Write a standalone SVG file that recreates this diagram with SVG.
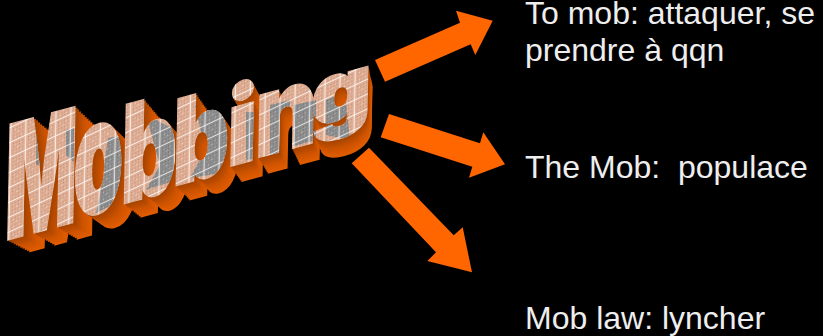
<svg xmlns="http://www.w3.org/2000/svg" width="823" height="336" viewBox="0 0 823 336">
<style>
.lbl{font:32px "Liberation Sans",Arial,sans-serif;fill:#eee;white-space:pre}
.arrow{fill:#ff6600}
#word{font-family:Inter,"DejaVu Sans",sans-serif;font-weight:900;stroke-width:2.5}
</style>
<defs>
<pattern id="peach" width="15" height="15" patternUnits="userSpaceOnUse" patternTransform="matrix(1 -0.2 0 1 0 0)">
<rect width="15" height="15" fill="#dfae94"/>
<path d="M1 1h1v1h-1zM4 1h1v1h-1zM7 1h1v1h-1zM10 1h1v1h-1zM1 4h1v1h-1zM4 4h1v1h-1zM7 4h1v1h-1zM10 4h1v1h-1zM1 8h1v1h-1zM4 8h1v1h-1zM7 8h1v1h-1zM10 8h1v1h-1zM1 11h1v1h-1zM4 11h1v1h-1zM7 11h1v1h-1zM10 11h1v1h-1z" fill="#b58570"/>
<path d="M2.500 2.500h1v1h-1zM5.500 5.500h1v1h-1zM8.500 2.500h1v1h-1zM2.500 9.500h1v1h-1zM8.500 9.500h1v1h-1z" fill="#f6dfd0"/>
<rect x="13" width="1" height="15" fill="#fff" opacity=".85"/><rect y="13" width="15" height="1" fill="#fff" opacity=".85"/>
</pattern>
<pattern id="gray" width="15" height="15" patternUnits="userSpaceOnUse" patternTransform="matrix(1 -0.2 0 1 0 0)">
<rect width="15" height="15" fill="#8f8f8f"/>
<path d="M1 1h1v1h-1zM4 1h1v1h-1zM7 1h1v1h-1zM10 1h1v1h-1zM1 4h1v1h-1zM4 4h1v1h-1zM7 4h1v1h-1zM10 4h1v1h-1zM1 8h1v1h-1zM4 8h1v1h-1zM7 8h1v1h-1zM10 8h1v1h-1zM1 11h1v1h-1zM4 11h1v1h-1zM7 11h1v1h-1zM10 11h1v1h-1z" fill="#666"/>
<path d="M2.500 2.500h1v1h-1zM5.500 5.500h1v1h-1zM8.500 2.500h1v1h-1zM2.500 9.500h1v1h-1zM8.500 9.500h1v1h-1z" fill="#c8c8c8"/>
<rect x="13" width="1" height="15" fill="#fff" opacity=".8"/><rect y="13" width="15" height="1" fill="#fff" opacity=".8"/>
</pattern>
<clipPath id="shade">
<polygon points="36,134 44,130 44,165 36,165"/><polygon points="66,130 74,128 74,162 66,155"/>
<polygon points="108,138 124,135 122,200 96,213 100,195"/>
<polygon points="146,115 176,130 176,180 146,190 160,165"/>
<polygon points="195,105 228,110 228,172 190,178 205,150"/>
<polygon points="246,112 258,112 258,158 246,160"/><polygon points="270,105 290,100 290,150 270,155"/>
<polygon points="294,105 316,100 316,140 294,146"/><polygon points="326,100 345,92 350,140 326,135"/>
</clipPath>
<text id="word" transform="matrix(1 -0.27 -0.02 1 0 0)"><tspan x="9" y="243" font-size="158" textLength="72" lengthAdjust="spacingAndGlyphs">M</tspan><tspan x="77" y="240" font-size="160" textLength="50" lengthAdjust="spacingAndGlyphs">o</tspan><tspan x="125" y="238" font-size="135" textLength="56" lengthAdjust="spacingAndGlyphs">b</tspan><tspan x="177" y="234" font-size="118" textLength="56" lengthAdjust="spacingAndGlyphs">b</tspan><tspan x="231" y="229" font-size="105" textLength="30" lengthAdjust="spacingAndGlyphs">i</tspan><tspan x="259" y="228" font-size="112" textLength="62" lengthAdjust="spacingAndGlyphs">n</tspan><tspan x="315" y="213" font-size="84" textLength="60" lengthAdjust="spacingAndGlyphs">g</tspan></text>
</defs>
<rect width="823" height="336" fill="#000"/>
<g id="mobbing">
<g id="extrusion">
<use href="#word" fill="#e05c00" stroke="#e05c00" transform="translate(453 469) scale(.95) translate(-453 -469)"/>
<use href="#word" fill="#dc5a00" stroke="#dc5a00" transform="translate(453 469) scale(.955) translate(-453 -469)"/>
<use href="#word" fill="#d85800" stroke="#d85800" transform="translate(453 469) scale(.96) translate(-453 -469)"/>
<use href="#word" fill="#d45600" stroke="#d45600" transform="translate(453 469) scale(.965) translate(-453 -469)"/>
<use href="#word" fill="#d05400" stroke="#d05400" transform="translate(453 469) scale(.97) translate(-453 -469)"/>
<use href="#word" fill="#c85200" stroke="#c85200" transform="translate(453 469) scale(.975) translate(-453 -469)"/>
<use href="#word" fill="#c04e00" stroke="#c04e00" transform="translate(453 469) scale(.98) translate(-453 -469)"/>
<use href="#word" fill="#b84b00" stroke="#b84b00" transform="translate(453 469) scale(.985) translate(-453 -469)"/>
<use href="#word" fill="#b04800" stroke="#b04800" transform="translate(453 469) scale(.99) translate(-453 -469)"/>
<use href="#word" fill="#a84500" stroke="#a84500" transform="translate(453 469) scale(.995) translate(-453 -469)"/>
</g>
<use href="#word" fill="url(#peach)" stroke="url(#peach)"/>
<g clip-path="url(#shade)"><use href="#word" fill="url(#gray)" stroke="url(#gray)"/></g>
</g>
<g id="connectors">
<polygon class="arrow" points="375,60 385,81.7 470.7,44.3 475.3,55 492.7,20.7 456,10.7 460,22.7"/>
<polygon class="arrow" points="389,114 380.7,137.3 472.3,166.7 469,177.7 505,164.3 483.3,132.3 480,143.3"/>
<polygon class="arrow" points="369,147.7 351.7,163.3 436,252.3 427.3,261 472,272.3 462.7,227.3 453.7,235.3"/>
</g>
<g id="label-1"><text class="lbl" x="525" y="24">To mob: attaquer, se</text><text class="lbl" x="525" y="61">prendre à qqn</text></g>
<g id="label-2"><text class="lbl" x="525" y="178">The Mob:  populace</text></g>
<g id="label-3"><text class="lbl" x="525" y="329">Mob law: lyncher</text></g>
</svg>
